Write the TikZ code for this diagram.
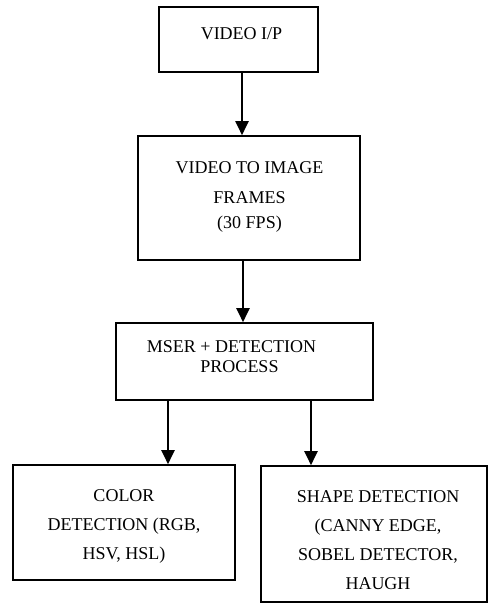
\documentclass[tikz,border=0pt]{standalone}
\usepackage{fontspec}
\setmainfont{Liberation Serif}
\usetikzlibrary{arrows.meta}

\begin{document}
\begin{tikzpicture}[x=1pt,y=-1pt,
  box/.style={draw,line width=1.6pt,inner sep=0pt},
  lbl/.style={inner sep=0pt,anchor=base,align=center,font=\fontsize{18}{29}\selectfont},
  flow/.style={line width=2pt,-{Triangle[width=13pt,length=14pt]}}]
\useasboundingbox (0,0) rectangle (489,604);
% blocks
\node[box,minimum width=159pt,minimum height=65pt] (vid) at (238.5,39.5) {};
\node[box,minimum width=222pt,minimum height=124pt] (frames) at (249,198) {};
\node[box,minimum width=257pt,minimum height=77pt] (mser) at (244.5,361.5) {};
\node[box,minimum width=222pt,minimum height=115pt] (colr) at (124,522.5) {};
\node[box,minimum width=226pt,minimum height=136pt] (shape) at (374,534) {};
% texts (base = last line)
\node[lbl] (vidtxt) at (241.5,40) {VIDEO I/P};
\node[lbl,font=\fontsize{18}{30}\selectfont] (framestxt) at (249.5,228) {VIDEO TO IMAGE\\FRAMES\\[-5pt](30 FPS)};
\node[lbl] (mserA) at (231.5,352) {MSER + DETECTION};
\node[lbl] (mserB) at (239.5,372) {PROCESS};
\node[lbl] (colrtxt) at (124,559) {COLOR\\DETECTION (RGB,\\HSV, HSL)};
\node[lbl] (shapetxt) at (378,589) {SHAPE DETECTION\\(CANNY EDGE,\\SOBEL DETECTOR,\\HAUGH};
% arrows
\draw[flow] ([xshift=3.5pt]vid.south) -- ([xshift=3.5pt]vid.south |- frames.north);
\draw[flow] ([xshift=-6pt]frames.south) -- ([xshift=-6pt]frames.south |- mser.north);
\draw[flow] ([xshift=44pt]colr.north |- mser.south) -- ([xshift=44pt]colr.north);
\draw[flow] ([xshift=-63pt]shape.north |- mser.south) -- ([xshift=-63pt]shape.north);
\end{tikzpicture}
\end{document}
